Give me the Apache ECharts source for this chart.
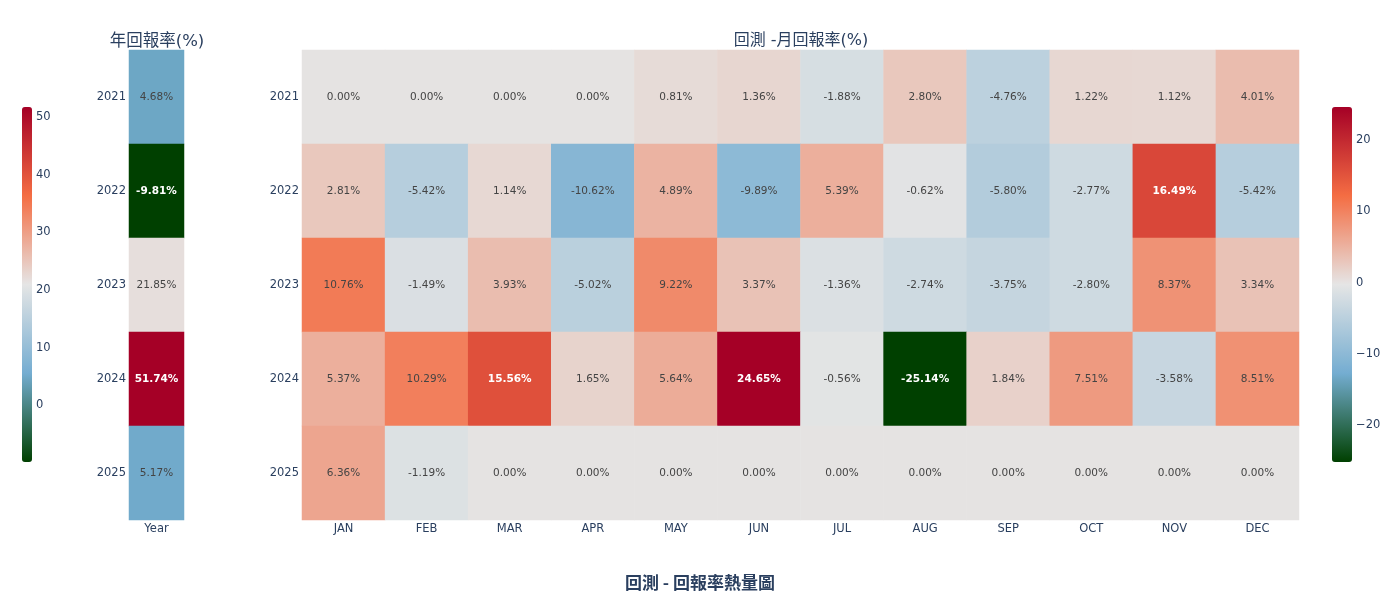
<!DOCTYPE html>
<html>
<head>
<meta charset="utf-8">
<script src="https://cdn.jsdelivr.net/npm/echarts@6/dist/echarts.min.js"></script>
<style>
html,body{margin:0;padding:0;background:#fff}
#main{width:1400px;height:600px}
</style>
</head>
<body>
<div id="main"></div>
<script>
// data
var years = ['2021', '2022', '2023', '2024', '2025'];
var months = ['JAN', 'FEB', 'MAR', 'APR', 'MAY', 'JUN', 'JUL', 'AUG', 'SEP', 'OCT', 'NOV', 'DEC'];
var yearReturns = [4.68, -9.81, 21.85, 51.74, 5.17];
var m2021 = [0.00, 0.00, 0.00, 0.00, 0.81, 1.36, -1.88, 2.80, -4.76, 1.22, 1.12, 4.01];
var m2022 = [2.81, -5.42, 1.14, -10.62, 4.89, -9.89, 5.39, -0.62, -5.80, -2.77, 16.49, -5.42];
var m2023 = [10.76, -1.49, 3.93, -5.02, 9.22, 3.37, -1.36, -2.74, -3.75, -2.80, 8.37, 3.34];
var m2024 = [5.37, 10.29, 15.56, 1.65, 5.64, 24.65, -0.56, -25.14, 1.84, 7.51, -3.58, 8.51];
var m2025 = [6.36, -1.19, 0.00, 0.00, 0.00, 0.00, 0.00, 0.00, 0.00, 0.00, 0.00, 0.00];
var monthRows = [m2021, m2022, m2023, m2024, m2025];
var yearTicks = [0, 10, 20, 30, 40, 50];
var monthTicks = [-20, -10, 0, 10, 20];

var palette = ['#004000', '#74add1', '#e5e5e5', '#f46d43', '#a50026'];
var axisColor = '#2a3f5f';
var font = 'DejaVu Sans, Verdana, sans-serif';
var titleFont = 'DejaVu Sans, Noto Sans CJK TC, sans-serif';

var yMin = Math.min.apply(null, yearReturns), yMax = Math.max.apply(null, yearReturns);
var allMonths = [].concat.apply([], monthRows);
var mMin = Math.min.apply(null, allMonths), mMax = Math.max.apply(null, allMonths);

function cell(x, y, v, lo, hi) {
    var t = (v - lo) / (hi - lo);
    var dark = t > 0.78 || t < 0.15;
    return {
        value: [x, y, v],
        label: {color: dark ? '#ffffff' : '#444444', fontWeight: dark ? 'bold' : 'normal'}
    };
}

var yearData = [];
for (var i = 0; i < years.length; i++) {
    yearData.push(cell(0, i, yearReturns[i], yMin, yMax));
}
var monthData = [];
for (var r = 0; r < monthRows.length; r++) {
    for (var c = 0; c < months.length; c++) {
        monthData.push(cell(c, r, monthRows[r][c], mMin, mMax));
    }
}

function minus(v) { return String(v).replace('-', '\u2212'); }

var catX = function (gi, data) {
    return {
        type: 'category', gridIndex: gi, data: data,
        axisLine: {show: false}, axisTick: {show: false}, splitLine: {show: false},
        axisLabel: {color: axisColor, fontSize: 11.5, fontFamily: font, margin: 3}
    };
};
var catY = function (gi) {
    return {
        type: 'category', gridIndex: gi, data: years, inverse: true,
        axisLine: {show: false}, axisTick: {show: false}, splitLine: {show: false},
        axisLabel: {color: axisColor, fontSize: 11.5, fontFamily: font, margin: 3}
    };
};
var barY = function (gi, lo, hi, ticks) {
    return {
        type: 'value', gridIndex: gi, min: lo, max: hi, position: 'right',
        axisLine: {show: false}, axisTick: {show: false}, splitLine: {show: false},
        axisLabel: {color: axisColor, fontSize: 11.5, fontFamily: font, margin: 4,
            customValues: ticks, formatter: minus}
    };
};
var hiddenX = function (gi) {
    return {type: 'value', gridIndex: gi, show: false, min: 0, max: 1};
};

var cellLabel = {
    show: true, fontSize: 10.5, fontFamily: font,
    formatter: function (p) { return p.value[2].toFixed(2) + '%'; }
};

var myChart = echarts.init(document.getElementById('main'));
var option = {
    backgroundColor: '#fff',
    animation: false,
    title: [
        {text: '年回報率(%)', left: 152, top: 28, textAlign: 'center',
            textStyle: {color: axisColor, fontSize: 16.5, fontWeight: 'normal', fontFamily: titleFont}},
        {text: '回測 -月回報率(%)', left: 796, top: 28, textAlign: 'center',
            textStyle: {color: axisColor, fontSize: 16, fontWeight: 'normal', fontFamily: titleFont}},
        {text: '回測 - 回報率熱量圖', left: 'center', top: 569,
            textStyle: {color: axisColor, fontSize: 17, fontWeight: 'bold', fontFamily: 'Noto Sans CJK TC'}}
    ],
    grid: [
        {left: 129, top: 50, width: 55, height: 470},
        {left: 302, top: 50, width: 997, height: 470},
        {left: 22, top: 107, width: 10, height: 355},
        {left: 1332, top: 107, width: 20, height: 355}
    ],
    xAxis: [catX(0, ['Year']), catX(1, months), hiddenX(2), hiddenX(3)],
    yAxis: [catY(0), catY(1), barY(2, yMin, yMax, yearTicks), barY(3, mMin, mMax, monthTicks)],
    visualMap: [
        {type: 'continuous', seriesIndex: 0, min: yMin, max: yMax, calculable: false,
            orient: 'vertical', left: 22, top: 107, itemWidth: 10, itemHeight: 355,
            padding: 0, text: null, showLabel: false, hoverLink: false,
            inRange: {color: palette}},
        {type: 'continuous', seriesIndex: 1, min: mMin, max: mMax, calculable: false,
            orient: 'vertical', left: 1332, top: 107, itemWidth: 20, itemHeight: 355,
            padding: 0, text: null, showLabel: false, hoverLink: false,
            inRange: {color: palette}}
    ],
    series: [
        {type: 'heatmap', xAxisIndex: 0, yAxisIndex: 0, data: yearData,
            label: cellLabel, emphasis: {disabled: true}, itemStyle: {borderWidth: 0}},
        {type: 'heatmap', xAxisIndex: 1, yAxisIndex: 1, data: monthData,
            label: cellLabel, emphasis: {disabled: true}, itemStyle: {borderWidth: 0}}
    ]
};
myChart.setOption(option);
</script>
</body>
</html>
